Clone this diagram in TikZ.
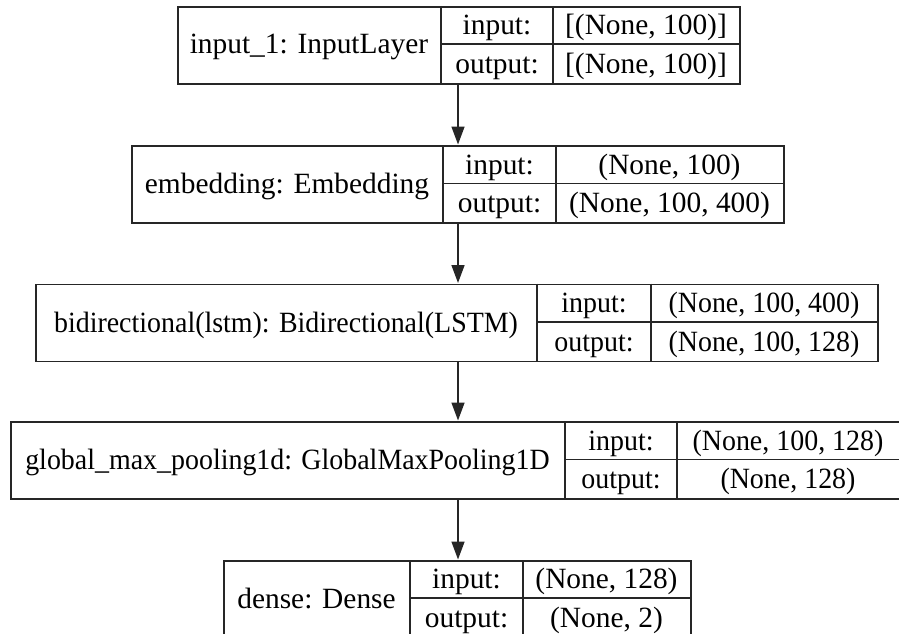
\documentclass[tikz,border=0pt]{standalone}
\usepackage{fontspec}
\setmainfont{Liberation Serif}
\usetikzlibrary{arrows.meta}
\tikzset{
  box/.style={draw=black!85, line width=1.6pt},
  txt/.style={anchor=base, inner sep=0pt, font=\fontsize{29.4}{34}\selectfont},
  ctxt/.style={txt, xscale=0.95},
  arr/.style={draw=black!85, line width=1.6pt, -{Triangle[length=18pt,width=13pt]}, shorten >=0.5pt}
}
\begin{document}
\begin{tikzpicture}[x=1pt,y=-1pt]
\useasboundingbox (0,0) rectangle (899,634);
\clip (0,0) rectangle (899,634);
\coordinate (ax) at (458,0);
% ---- layer 1
\node[box, anchor=north west, minimum width=562pt, minimum height=77pt, inner sep=0pt] (L1) at (177,6) {};
\draw[box] (441,6) -- (441,83) (553,6) -- (553,83) (441,44) -- (739,44);
\node[txt] (L1name) at (309,54) {input\_1: InputLayer};
\node[txt] (L1in) at (497,35) {input:};
\node[txt] (L1out) at (497,73.5) {output:};
\node[txt] (L1inv) at (646,35) {[(None, 100)]};
\node[txt] (L1outv) at (646,73.5) {[(None, 100)]};
% ---- layer 2
\node[box, anchor=north west, minimum width=652pt, minimum height=77pt, inner sep=0pt] (L2) at (131,145) {};
\draw[box] (443,145) -- (443,222) (556,145) -- (556,222) (443,183.5) -- (783,183.5);
\node[txt] (L2name) at (287,193.5) {embedding: Embedding};
\node[txt] (L2in) at (499.5,174) {input:};
\node[txt] (L2out) at (499.5,212.5) {output:};
\node[txt] (L2inv) at (669.5,174) {(None, 100)};
\node[txt] (L2outv) at (669.5,212.5) {(None, 100, 400)};
% ---- layer 3
\node[box, anchor=north west, minimum width=842pt, minimum height=77pt, inner sep=0pt] (L3) at (35,283.5) {};
\draw[box] (537,283.5) -- (537,360.5) (651,283.5) -- (651,360.5) (537,322) -- (877,322);
\node[ctxt] (L3name) at (286,332) {bidirectional(lstm): Bidirectional(LSTM)};
\node[ctxt] (L3in) at (594,312.5) {input:};
\node[ctxt] (L3out) at (594,351) {output:};
\node[ctxt] (L3inv) at (764,312.5) {(None, 100, 400)};
\node[ctxt] (L3outv) at (764,351) {(None, 100, 128)};
% ---- layer 4
\node[box, anchor=north west, minimum width=892pt, minimum height=77pt, inner sep=0pt] (L4) at (10,421) {};
\draw[box] (565,421) -- (565,498) (677,421) -- (677,498) (565,459.5) -- (902,459.5);
\node[ctxt] (L4name) at (287.5,469.5) {global\_max\_pooling1d: GlobalMaxPooling1D};
\node[ctxt] (L4in) at (621,450) {input:};
\node[ctxt] (L4out) at (621,488.5) {output:};
\node[ctxt] (L4inv) at (788,450) {(None, 100, 128)};
\node[ctxt] (L4outv) at (788,488.5) {(None, 128)};
% ---- layer 5
\node[box, anchor=north west, minimum width=467pt, minimum height=77pt, inner sep=0pt] (L5) at (223,560) {};
\draw[box] (410,560) -- (410,637) (523,560) -- (523,637) (410,598) -- (690,598);
\node[txt] (L5name) at (316.5,608) {dense: Dense};
\node[txt] (L5in) at (466.5,588.5) {input:};
\node[txt] (L5out) at (466.5,627) {output:};
\node[txt] (L5inv) at (606.5,588.5) {(None, 128)};
\node[txt] (L5outv) at (606.5,627) {(None, 2)};
% ---- connectors
\draw[arr] (L1.south -| ax) -- (L2.north -| ax);
\draw[arr] (L2.south -| ax) -- (L3.north -| ax);
\draw[arr] (L3.south -| ax) -- (L4.north -| ax);
\draw[arr] (L4.south -| ax) -- (L5.north -| ax);
\end{tikzpicture}
\end{document}
